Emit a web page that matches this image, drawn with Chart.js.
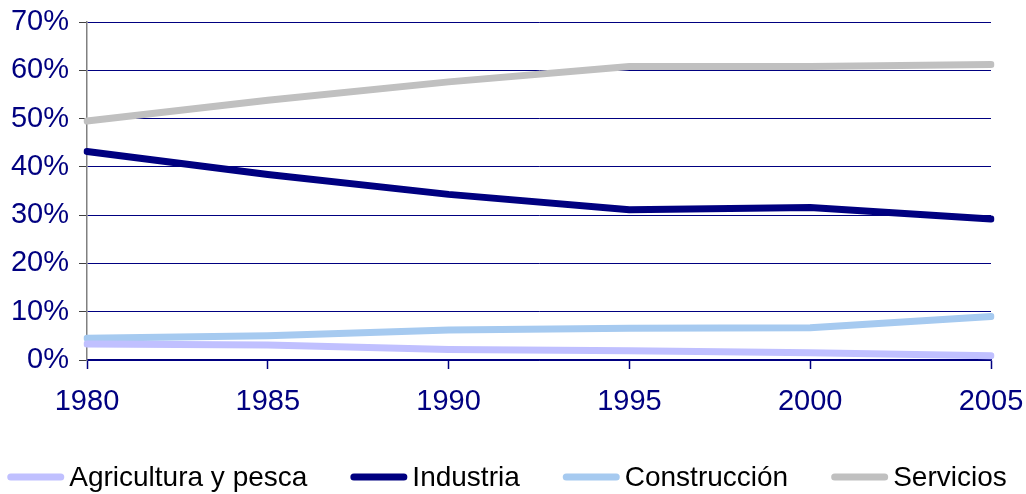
<!DOCTYPE html>
<html>
<head>
<meta charset="utf-8">
<script src="https://cdn.jsdelivr.net/npm/chart.js@4.4.0/dist/chart.umd.min.js"></script>
<style>
html,body{margin:0;padding:0;background:#fff;}
#wrap{width:1026px;height:494px;}
</style>
</head>
<body>
<div id="wrap"><canvas id="c" width="1026" height="494"></canvas></div>
<script>
const years = ['1980','1985','1990','1995','2000','2005'];
const agricultura = [3.3, 3.1, 2.2, 1.9, 1.5, 0.9];
const industria = [43.2, 38.4, 34.3, 31.1, 31.6, 29.2];
const construccion = [4.5, 5.0, 6.2, 6.6, 6.7, 9.0];
const servicios = [49.5, 53.8, 57.6, 60.8, 60.8, 61.2];
const seriesNames = ['Agricultura y pesca','Industria','Construcción','Servicios'];
const seriesColors = ['#C0C0FF','#000080','#A6CAF0','#C0C0C0'];
const yTicks = [0,10,20,30,40,50,60,70];

const FONT = '"Liberation Sans", Arial, sans-serif';
const seriesData = [agricultura, industria, construccion, servicios];
const datasets = seriesNames.map((n,i)=>({
  label:n, data:seriesData[i], borderColor:seriesColors[i], backgroundColor:seriesColors[i],
  borderWidth:7, pointRadius:0, tension:0, borderCapStyle:'round', borderJoinStyle:'round',
  order: i===0?0:(4-i)
}));

// Legend drawn in one row at the bottom, using the chart's own dataset labels/colours
const bottomLegend = {
  id:'bottomLegend',
  afterDraw(chart){
    const ctx = chart.ctx;
    const lineW = 57, gap = 5, spacing = 43, fontSize = 28, y = 477;
    ctx.save();
    ctx.font = fontSize + 'px ' + FONT;
    const items = chart.data.datasets.map(d=>({text:d.label, color:d.borderColor, w:ctx.measureText(d.label).width}));
    const total = items.reduce((a,it)=>a+lineW+gap+it.w,0) + spacing*(items.length-1);
    let x = (chart.width - total)/2 - 6;
    items.forEach(it=>{
      ctx.strokeStyle = it.color; ctx.lineWidth = 7; ctx.lineCap = 'round';
      ctx.beginPath(); ctx.moveTo(x+3.5, y); ctx.lineTo(x+lineW-3.5, y); ctx.stroke();
      ctx.fillStyle = '#000'; ctx.textBaseline = 'middle'; ctx.textAlign = 'left';
      ctx.fillText(it.text, x+lineW+gap, y+1);
      x += lineW + gap + it.w + spacing;
    });
    ctx.restore();
  }
};

new Chart(document.getElementById('c'),{
  type:'line',
  data:{labels:years, datasets},
  plugins:[bottomLegend],
  options:{
    responsive:false, animation:false, devicePixelRatio:1,
    layout:{padding:{left:0,right:35,top:22,bottom:70}},
    plugins:{ tooltip:{enabled:false}, legend:{display:false} },
    scales:{
      x:{
        offset:false,
        grid:{drawOnChartArea:false, drawTicks:true, tickLength:9, color:'#000080', tickWidth:1.5},
        border:{color:'#000080', width:1.5},
        ticks:{font:{family:FONT, size:29}, color:'#000080', padding:16, maxRotation:0, autoSkip:false},
        afterFit(s){ s.height = 64; s.paddingRight = 0; s.paddingLeft = 0; }
      },
      y:{
        min:0, max:70,
        afterBuildTicks(s){ s.ticks = yTicks.map(v=>({value:v})); },
        grid:{color:'#000080', lineWidth:1, tickLength:8, tickColor:'#404040'},
        border:{color:'#808080', width:1.5},
        ticks:{font:{family:FONT, size:29}, color:'#000080', padding:10, callback:v=>v+'%'},
        afterFit(s){ s.width = 87; s.paddingTop = 0; s.paddingBottom = 0; }
      }
    }
  }
});
</script>
</body>
</html>
